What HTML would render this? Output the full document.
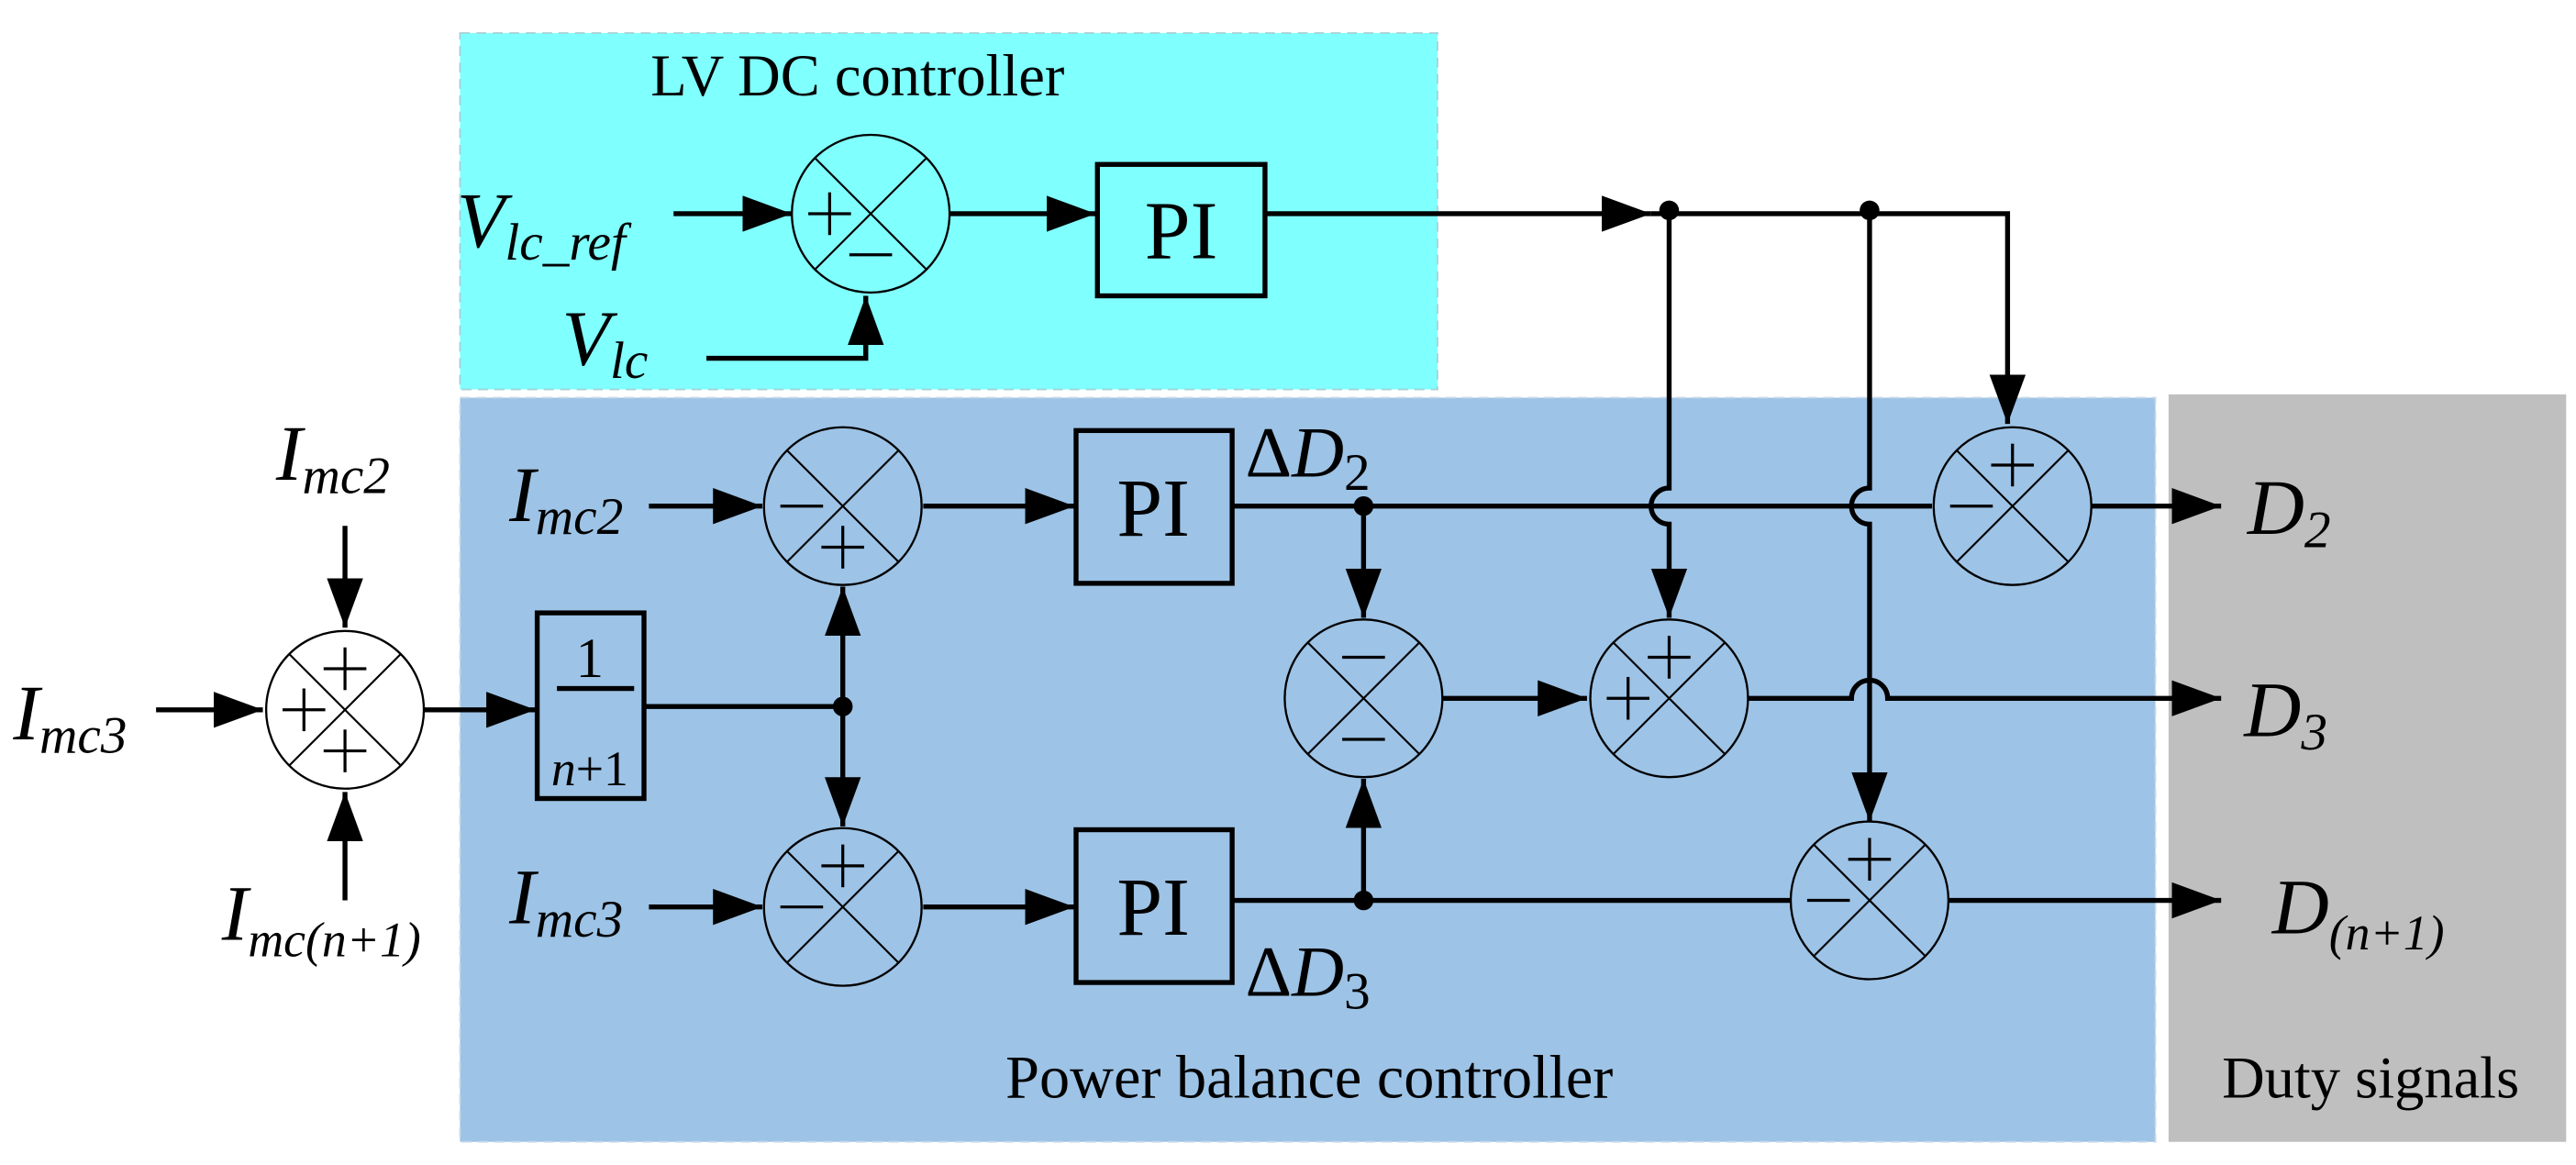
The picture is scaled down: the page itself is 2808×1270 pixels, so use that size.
<!DOCTYPE html>
<html><head><meta charset="utf-8"><style>
html,body{margin:0;padding:0;background:#fff;}
svg{display:block;}
text{font-family:"Liberation Serif","Times New Roman","DejaVu Serif",serif;fill:#000;}
.it{font-style:italic;}
</style></head><body>
<svg width="2808" height="1270" viewBox="0 0 1568 709" xmlns="http://www.w3.org/2000/svg" font-family="Liberation Serif, serif">
<defs>
<marker id="a" markerUnits="userSpaceOnUse" markerWidth="34" markerHeight="24" refX="30" refY="11" orient="auto">
<polygon points="0,0 30,11 0,22" fill="#000"/>
</marker>
<g id="sum">
<circle cx="0" cy="0" r="48" stroke="#000" stroke-width="1.3"/>
<line x1="-34" y1="-34" x2="34" y2="34" stroke="#000" stroke-width="1.2"/>
<line x1="-34" y1="34" x2="34" y2="-34" stroke="#000" stroke-width="1.2"/>
</g>
<g id="p"><line x1="-13" y1="0" x2="13" y2="0" stroke="#000" stroke-width="1.8"/><line x1="0" y1="-13" x2="0" y2="13" stroke="#000" stroke-width="1.8"/></g>
<g id="m"><line x1="-13" y1="0" x2="13" y2="0" stroke="#000" stroke-width="1.8"/></g>
</defs>

<rect x="280" y="20" width="595" height="217" fill="#80ffff" stroke="#a8d0d8" stroke-width="1" stroke-dasharray="6,4"/>
<rect x="280" y="242" width="1032" height="453" fill="#9dc3e6" stroke="#c8d8e8" stroke-width="1" stroke-dasharray="6,4"/>
<rect x="1320" y="240" width="242" height="455" fill="#bfbfbf"/>

<text x="522" y="58" font-size="36" text-anchor="middle">LV DC controller</text>
<text x="797" y="668" font-size="37" text-anchor="middle">Power balance controller</text>
<text x="1443" y="668" font-size="36" text-anchor="middle">Duty signals</text>

<g fill="none" stroke="#000" stroke-width="3">
<line x1="410" y1="130" x2="482" y2="130" marker-end="url(#a)"/>
<line x1="578" y1="130" x2="667" y2="130" marker-end="url(#a)"/>
<polyline points="430,218 527,218 527,180" marker-end="url(#a)"/>
<line x1="770" y1="130" x2="1005" y2="130" marker-end="url(#a)"/>
<polyline points="1005,130 1222,130 1222,258" marker-end="url(#a)"/>
<path d="M1016,130 V297 A11,11 0 0 0 1016,319 V376" marker-end="url(#a)"/>
<path d="M1138,130 V297 A11,11 0 0 0 1138,319 V500" marker-end="url(#a)"/>
<line x1="95" y1="432" x2="160" y2="432" marker-end="url(#a)"/>
<line x1="210" y1="320" x2="210" y2="382" marker-end="url(#a)"/>
<line x1="210" y1="548" x2="210" y2="482" marker-end="url(#a)"/>
<line x1="258" y1="432" x2="326" y2="432" marker-end="url(#a)"/>
<line x1="393" y1="430" x2="513" y2="430"/>
<line x1="513" y1="430" x2="513" y2="357" marker-end="url(#a)"/>
<line x1="513" y1="430" x2="513" y2="503" marker-end="url(#a)"/>
<line x1="395" y1="308" x2="464" y2="308" marker-end="url(#a)"/>
<line x1="562" y1="308" x2="654" y2="308" marker-end="url(#a)"/>
<line x1="750" y1="308" x2="1176" y2="308"/>
<line x1="1273" y1="308" x2="1352" y2="308" marker-end="url(#a)"/>
<line x1="830" y1="308" x2="830" y2="376" marker-end="url(#a)"/>
<line x1="395" y1="552" x2="464" y2="552" marker-end="url(#a)"/>
<line x1="562" y1="552" x2="654" y2="552" marker-end="url(#a)"/>
<line x1="750" y1="548" x2="1090" y2="548"/>
<line x1="830" y1="548" x2="830" y2="474" marker-end="url(#a)"/>
<line x1="1186" y1="548" x2="1352" y2="548" marker-end="url(#a)"/>
<line x1="878" y1="425" x2="966" y2="425" marker-end="url(#a)"/>
<path d="M1064,425 H1127 A11,11 0 0 1 1149,425 H1352" marker-end="url(#a)"/>
<rect x="668" y="100" width="102" height="80"/>
<rect x="655" y="262" width="95" height="93"/>
<rect x="655" y="505" width="95" height="93"/>
<rect x="327" y="373" width="65" height="113"/>
<line x1="339" y1="419" x2="386" y2="419"/>
</g>

<g fill="#000">
<circle cx="1016" cy="128" r="6"/><circle cx="1138" cy="128" r="6"/>
<circle cx="513" cy="430" r="6"/><circle cx="830" cy="308" r="6"/><circle cx="830" cy="548" r="6"/>
</g>

<use href="#sum" x="530" y="130" fill="#80ffff"/>
<use href="#p" x="505" y="130"/><use href="#m" x="530" y="155"/>
<use href="#sum" x="210" y="432" fill="#fff"/>
<use href="#p" x="210" y="407"/><use href="#p" x="185" y="432"/><use href="#p" x="210" y="457"/>
<use href="#sum" x="513" y="308" fill="#9dc3e6"/>
<use href="#m" x="488" y="308"/><use href="#p" x="513" y="333"/>
<use href="#sum" x="513" y="552" fill="#9dc3e6"/>
<use href="#p" x="513" y="527"/><use href="#m" x="488" y="552"/>
<use href="#sum" x="830" y="425" fill="#9dc3e6"/>
<use href="#m" x="830" y="400"/><use href="#m" x="830" y="450"/>
<use href="#sum" x="1016" y="425" fill="#9dc3e6"/>
<use href="#p" x="1016" y="400"/><use href="#p" x="991" y="425"/>
<use href="#sum" x="1225" y="308" fill="#9dc3e6"/>
<use href="#p" x="1225" y="283"/><use href="#m" x="1200" y="308"/>
<use href="#sum" x="1138" y="548" fill="#9dc3e6"/>
<use href="#p" x="1138" y="523"/><use href="#m" x="1113" y="548"/>

<text x="719" y="157" font-size="50" text-anchor="middle">PI</text>
<text x="702" y="326" font-size="50" text-anchor="middle">PI</text>
<text x="702" y="569" font-size="50" text-anchor="middle">PI</text>
<text x="359" y="412" font-size="34" text-anchor="middle">1</text>
<text x="359" y="478" font-size="30" text-anchor="middle"><tspan class="it">n</tspan>+1</text>

<text x="278" y="150" font-size="48" class="it">V<tspan font-size="32" dy="8">lc_ref</tspan></text>
<text x="342" y="222" font-size="48" class="it">V<tspan font-size="32" dy="8">lc</tspan></text>
<text x="8" y="450" font-size="48" class="it">I<tspan font-size="32" dy="8">mc3</tspan></text>
<text x="168" y="292" font-size="48" class="it">I<tspan font-size="32" dy="8">mc2</tspan></text>
<text x="135" y="572" font-size="48" class="it">I<tspan font-size="30" dy="10">mc(n+1)</tspan></text>
<text x="310" y="317" font-size="48" class="it">I<tspan font-size="32" dy="8">mc2</tspan></text>
<text x="310" y="562" font-size="48" class="it">I<tspan font-size="32" dy="8">mc3</tspan></text>
<text x="758" y="290" font-size="44">Δ<tspan class="it">D</tspan><tspan font-size="32" dy="8">2</tspan></text>
<text x="758" y="606" font-size="44">Δ<tspan class="it">D</tspan><tspan font-size="32" dy="8">3</tspan></text>
<text x="1368" y="325" font-size="48" class="it">D<tspan font-size="32" dy="8">2</tspan></text>
<text x="1366" y="448" font-size="48" class="it">D<tspan font-size="32" dy="8">3</tspan></text>
<text x="1383" y="568" font-size="48" class="it">D<tspan font-size="30" dy="10">(n+1)</tspan></text>
</svg>
</body></html>
